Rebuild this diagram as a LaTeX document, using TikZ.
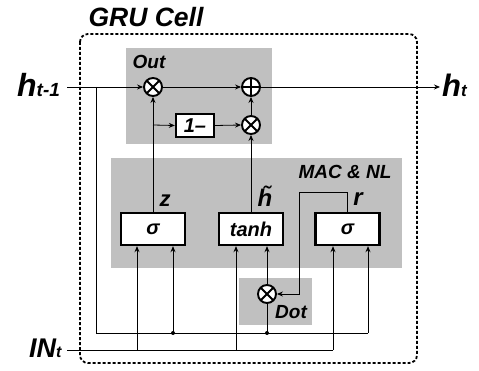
\documentclass[tikz,border=0pt]{standalone}
\usepackage{fontspec}
\setmainfont{Liberation Sans}
\usetikzlibrary{arrows.meta}
\definecolor{panelgray}{RGB}{192,192,192}
\newcommand{\fs}[1]{\fontsize{#1}{#1}\selectfont}
\tikzset{
  lbl/.style={inner sep=0pt, font=\bfseries\itshape},
  conn/.style={line width=0.8pt},
  arr/.style={conn, -{Stealth[length=6pt,width=5pt]}},
  opbox/.style={draw, fill=white, line width=2.4pt, minimum width=64pt, minimum height=32pt, inner sep=0pt, font=\bfseries\itshape\fs{20}},
  opcirc/.style={circle, draw, fill=white, line width=1.9pt, minimum size=18pt, inner sep=0pt},
  mult/.style={opcirc, path picture={
      \draw[line width=1.9pt] (path picture bounding box.south west) -- (path picture bounding box.north east)
        (path picture bounding box.north west) -- (path picture bounding box.south east);}},
  addn/.style={opcirc, path picture={
      \draw[line width=1.9pt] (path picture bounding box.south) -- (path picture bounding box.north)
        (path picture bounding box.west) -- (path picture bounding box.east);}},
  cellbox/.style={draw, line width=1.8pt, dash pattern=on 3pt off 2pt, rounded corners=8pt},
  panel/.style={fill=panelgray},
}
\begin{document}
\begin{tikzpicture}[x=1pt,y=-1pt]
\useasboundingbox (0,0) rectangle (479,371);
% panels
\fill[panel] (126,48) rectangle (272,144);
\fill[panel] (111,158) rectangle (402,268);
\fill[panel] (239,278) rectangle (312,325);
% cell boundary
\draw[cellbox] (80,34) rectangle (417,363);
% titles / labels
\node[lbl, font=\bfseries\itshape\fs{26.5}] (title) at (146,17) {GRU Cell};
\node[lbl, font=\bfseries\itshape\fs{19}] (lout) at (149,62) {Out};
\node[lbl, font=\bfseries\itshape\fs{19}] (lmac) at (345,172) {MAC \& NL};
\node[lbl, font=\bfseries\itshape\fs{19}] (ldot) at (291,312) {Dot};
\node[lbl, font=\bfseries\itshape\fs{22}] (lz) at (165,201) {z};
\node[lbl, font=\bfseries\itshape\fs{24}, anchor=base] (lh) at (265,207) {h̃};
\node[lbl, font=\bfseries\itshape\fs{24}, anchor=base] (lr) at (358,206) {r};
\node[lbl, anchor=base west] (hin) at (17,97) {\fs{32}h\fs{19}t-1};
\node[lbl, anchor=base west] (xin) at (29,357) {\fs{27}IN\fs{16}t};
\node[lbl, anchor=base west] (hout) at (442,97) {\fs{31}h\fs{17}t};
% operators
\node[mult] (m1) at (153,87) {};
\node[addn] (pl) at (251,87) {};
\node[mult] (m2) at (251,125) {};
\node[opbox, minimum width=38pt, minimum height=23pt] (om) at (195,125.5) {1–};
\node[opbox] (s1) at (153,229) {σ};
\node[opbox] (th) at (251,229) {tanh};
\node[opbox] (s2) at (347.5,229) {σ};
\node[mult] (md) at (267,294) {};
% coordinates
\coordinate (hs) at (67,87);
\coordinate (hj) at (96,87);
\coordinate (hb) at (96,333);
\coordinate (d1) at (173,333);
\coordinate (d2) at (267,333);
\coordinate (hr) at (368,333);
\coordinate (is) at (67,350);
\coordinate (i1) at (137,350);
\coordinate (i2) at (236,350);
\coordinate (i3) at (333,350);
\coordinate (he) at (440,87);
\coordinate (zb) at (153,125);
\coordinate (r1) at (347.5,192);
\coordinate (r2) at (299,192);
% connectors
\draw[arr] (hs) -- (m1.west);
\draw[conn] (hj) -- (hb) -- (hr);
\draw[arr] (hr) -- (hr |- s2.south);
\draw[arr] (d1) -- (d1 |- s1.south);
\draw[conn] (d2) -- (md.south);
\draw[arr] (md.north) -- (th.south -| md);
\draw[conn] (is) -- (i3);
\draw[arr] (i1) -- (i1 |- s1.south);
\draw[arr] (i2) -- (i2 |- th.south);
\draw[arr] (i3) -- (i3 |- s2.south);
\draw[arr] (s1.north) -- (m1.south);
\draw[arr] (zb) -- (om.west);
\draw[arr] (om.east) -- (m2.west);
\draw[arr] (m1.east) -- (pl.west);
\draw[arr] (m2.north) -- (pl.south);
\draw[arr] (th.north) -- (m2.south);
\draw[arr] (pl.east) -- (he);
\draw[arr] (s2.north) -- (r1) -- (r2) -- (r2 |- md.east) -- (md.east);
\fill (d1) circle (2pt);
\fill (d2) circle (2pt);
\end{tikzpicture}
\end{document}
